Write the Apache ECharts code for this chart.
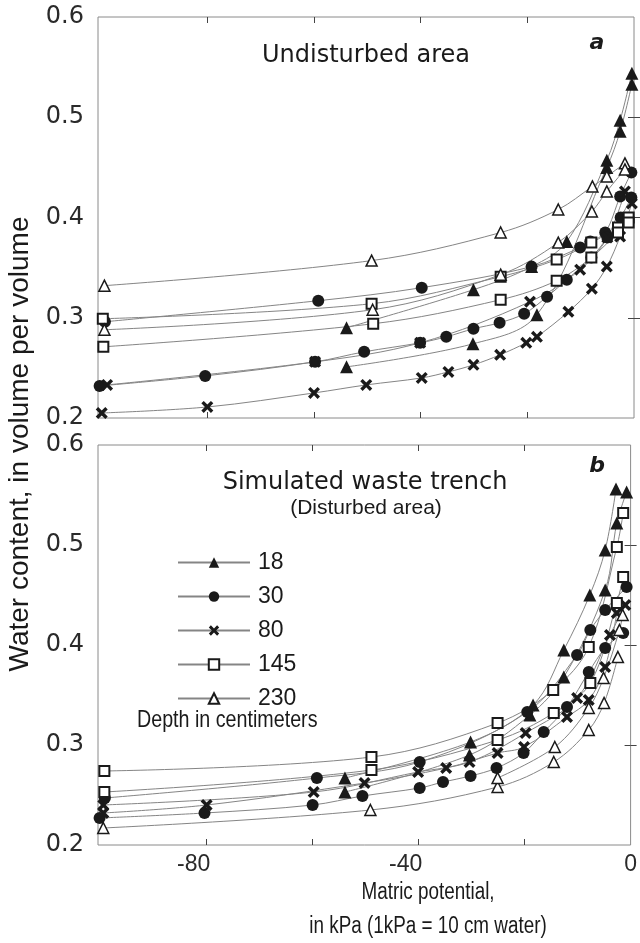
<!DOCTYPE html>
<html>
<head>
<meta charset="utf-8">
<script src="https://cdn.jsdelivr.net/npm/echarts@6/dist/echarts.min.js"></script>
<style>
  html, body { margin: 0; padding: 0; background: #fff; }
  #chart { width: 640px; height: 943px; }
</style>
</head>
<body>
<div id="chart"></div>
<script>
// depth in centimeters (legend)
var depths = ['18', '30', '80', '145', '230'];
var xTicks = [-80, -60, -40, -20];
var xLabels = [-80, -40, 0];
var yTicks = [0.3, 0.4, 0.5];
var yLabels = [0.2, 0.3, 0.4, 0.5, 0.6];

// a - undisturbed area, two curves per depth  [matric potential kPa, water content]
var u18a = [[-53.9,0.290],[-30.1,0.328],[-19.2,0.351],[-12.6,0.376],[-5.1,0.457],[-2.6,0.497],[-0.4,0.544]];
var u18b = [[-53.9,0.251],[-30.2,0.274],[-18.2,0.303],[-5.1,0.450],[-2.6,0.486],[-0.4,0.533]];
var u30a = [[-99.2,0.296],[-59.2,0.317],[-39.8,0.330],[-19.2,0.351],[-10.1,0.370],[-8.2,0.376],[-5.4,0.385],[-2.6,0.421],[-0.5,0.445]];
var u30b = [[-100.2,0.232],[-80.4,0.242],[-59.8,0.256],[-50.6,0.266],[-40.1,0.275],[-35.2,0.281],[-30.1,0.289],[-25.2,0.295],[-20.6,0.304],[-16.3,0.321],[-12.6,0.338],[-8.0,0.360],[-5.0,0.380],[-2.5,0.400],[-0.5,0.420]];
var u80a = [[-98.8,0.233],[-59.8,0.256],[-40.1,0.275],[-19.5,0.316],[-10.1,0.348],[-5.0,0.380],[-1.7,0.426]];
var u80b = [[-99.8,0.205],[-80.0,0.211],[-60.0,0.225],[-50.2,0.233],[-39.8,0.240],[-34.8,0.246],[-30.1,0.253],[-25.1,0.263],[-20.2,0.275],[-18.2,0.281],[-12.3,0.306],[-7.9,0.329],[-5.1,0.351],[-2.6,0.381],[-0.4,0.414]];
var u145a = [[-99.6,0.299],[-49.2,0.314],[-25.0,0.341],[-14.5,0.358],[-8.0,0.375],[-3.0,0.390],[-1.0,0.400]];
var u145b = [[-99.5,0.271],[-48.9,0.294],[-25.0,0.318],[-14.5,0.337],[-8.0,0.360],[-3.0,0.385],[-1.0,0.395]];
var u230a = [[-99.3,0.332],[-49.2,0.357],[-25.0,0.385],[-14.2,0.408],[-7.8,0.431],[-5.1,0.441],[-1.7,0.454]];
var u230b = [[-99.3,0.288],[-49.0,0.308],[-25.0,0.343],[-14.2,0.375],[-7.9,0.406],[-5.1,0.426],[-1.7,0.448]];

// b - simulated waste trench
var t18a = [[-53.9,0.267],[-30.2,0.303],[-18.4,0.340],[-12.6,0.395],[-7.7,0.450],[-4.8,0.495],[-2.75,0.556]];
var t18b = [[-53.9,0.253],[-30.4,0.290],[-19.0,0.330],[-12.6,0.368],[-4.8,0.455],[-2.6,0.522],[-0.75,0.553]];
var t30a = [[-99.2,0.247],[-59.2,0.267],[-39.8,0.283],[-19.5,0.333],[-10.1,0.390],[-7.6,0.415],[-4.8,0.435],[-0.75,0.458]];
var t30b = [[-100.2,0.227],[-80.4,0.232],[-60.0,0.240],[-50.6,0.249],[-39.8,0.257],[-35.4,0.263],[-30.2,0.269],[-25.3,0.277],[-20.2,0.292],[-16.4,0.313],[-12.0,0.338],[-7.9,0.373],[-4.8,0.397],[-1.4,0.412]];
var t80a = [[-99.5,0.240],[-59.8,0.253],[-40.1,0.273],[-30.4,0.283],[-19.8,0.312],[-10.1,0.347],[-3.9,0.410],[-1.0,0.440]];
var t80b = [[-99.5,0.232],[-80.0,0.240],[-50.2,0.262],[-34.8,0.277],[-25.1,0.292],[-20.1,0.298],[-12.0,0.328],[-7.9,0.345],[-4.8,0.378],[-2.6,0.432]];
var t145a = [[-99.3,0.274],[-48.9,0.288],[-25.1,0.322],[-14.6,0.355],[-7.9,0.398],[-2.6,0.498],[-1.4,0.532]];
var t145b = [[-99.3,0.253],[-48.9,0.275],[-25.1,0.305],[-14.5,0.332],[-7.6,0.362],[-2.6,0.442],[-1.4,0.468]];
var t230a = [[-99.5,0.217],[-49.1,0.235],[-25.1,0.258],[-14.5,0.283],[-7.9,0.315],[-5.0,0.342],[-2.4,0.388]];
var t230b = [[-25.1,0.267],[-14.3,0.298],[-7.9,0.337],[-5.1,0.367],[-2.1,0.415],[-1.5,0.430]];

var FONT = 'DejaVu Sans';
var SANS = 'Liberation Sans';
var INK = '#1a1a1a';
var crossPath = 'path://M2,0 L5,3 L8,0 L10,2 L7,5 L10,8 L8,10 L5,7 L2,10 L0,8 L3,5 L0,2 Z';

// marker look per depth
var markers = {
    '18':  { symbol: 'triangle', size: 13, fill: INK, border: INK, bw: 0 },
    '30':  { symbol: 'circle', size: 12, fill: INK, border: INK, bw: 0 },
    '80':  { symbol: crossPath, size: 12, fill: INK, border: INK, bw: 0 },
    '145': { symbol: 'rect', size: 10, fill: '#fff', border: INK, bw: 2 },
    '230': { symbol: 'triangle', size: 11, fill: '#fff', border: INK, bw: 1.5 }
};

function makeSeries(name, data, panel) {
    var m = markers[name];
    return {
        type: 'line',
        name: name,
        data: data,
        xAxisIndex: panel * 2,
        yAxisIndex: panel * 2,
        smooth: 0.35,
        symbol: m.symbol,
        symbolSize: m.size,
        showAllSymbol: true,
        lineStyle: { color: '#858585', width: 1 },
        itemStyle: { color: m.fill, borderColor: m.border, borderWidth: m.bw, opacity: 1 },
        emphasis: { disabled: true },
        animation: false
    };
}

function xAxes(grid, showLabels) {
    return [{
        type: 'value', gridIndex: grid, min: -100.5, max: 0, position: 'bottom',
        axisLine: { show: false }, splitLine: { show: false },
        axisTick: { show: true, inside: true, length: 6, customValues: xTicks, lineStyle: { color: '#444' } },
        axisLabel: {
            show: showLabels, customValues: xLabels, margin: 8,
            fontFamily: SANS, fontSize: 23, color: '#2a2a2a',
            // the printed labels sit a little left of their ticks
            formatter: function (v) { return v === 0 ? '{z|0}' : '{m|' + v + '}'; },
            rich: {
                m: { fontFamily: SANS, fontSize: 23, color: '#2a2a2a', padding: [0, 26, 0, 0] },
                z: { fontFamily: SANS, fontSize: 23, color: '#2a2a2a' }
            }
        }
    }, {
        type: 'value', gridIndex: grid, min: -100.5, max: 0, position: 'top',
        axisLine: { show: false }, splitLine: { show: false }, axisLabel: { show: false },
        axisTick: { show: true, inside: true, length: 6, customValues: xTicks, lineStyle: { color: '#444' } }
    }];
}

function yAxes(grid) {
    return [{
        type: 'value', gridIndex: grid, min: 0.2, max: 0.6, position: 'left',
        axisLine: { show: false }, splitLine: { show: false },
        axisTick: { show: true, inside: true, length: 6, customValues: yTicks, lineStyle: { color: '#444' } },
        axisLabel: {
            customValues: yLabels, margin: 14, fontFamily: FONT, fontSize: 24, color: '#2a2a2a',
            formatter: function (v) { return v.toFixed(1); }
        }
    }, {
        type: 'value', gridIndex: grid, min: 0.2, max: 0.6, position: 'right',
        axisLine: { show: false }, splitLine: { show: false }, axisLabel: { show: false },
        axisTick: { show: true, inside: true, length: 6, customValues: yTicks, lineStyle: { color: '#444' } }
    }];
}

var series = [
    makeSeries('18', u18a, 0), makeSeries('18', u18b, 0),
    makeSeries('30', u30a, 0), makeSeries('30', u30b, 0),
    makeSeries('80', u80a, 0), makeSeries('80', u80b, 0),
    makeSeries('145', u145a, 0), makeSeries('145', u145b, 0),
    makeSeries('230', u230a, 0), makeSeries('230', u230b, 0),
    makeSeries('18', t18a, 1), makeSeries('18', t18b, 1),
    makeSeries('30', t30a, 1), makeSeries('30', t30b, 1),
    makeSeries('80', t80a, 1), makeSeries('80', t80b, 1),
    makeSeries('145', t145a, 1), makeSeries('145', t145b, 1),
    makeSeries('230', t230a, 1), makeSeries('230', t230b, 1)
];

function label(text, x, y, size, extra, sx) {
    var style = { text: text, fontFamily: FONT, fontSize: size, fill: INK, align: 'center', verticalAlign: 'middle' };
    for (var k in extra) style[k] = extra[k];
    // sx squeezes the text sideways, the print uses a narrow face here
    return { type: 'text', x: x, y: y, scaleX: sx || 1, silent: true, style: style };
}

var chart = echarts.init(document.getElementById('chart'), null, { renderer: 'canvas' });
chart.setOption({
    backgroundColor: '#fff',
    animation: false,
    grid: [
        { left: 98, right: 6, top: 17, height: 401, show: true, borderColor: '#8a8a8a', borderWidth: 1 },
        { left: 98, right: 6, top: 445, height: 400, show: true, borderColor: '#8a8a8a', borderWidth: 1 }
    ],
    xAxis: xAxes(0, false).concat(xAxes(1, true)),
    yAxis: yAxes(0).concat(yAxes(1)),
    legend: {
        data: depths, orient: 'vertical', left: 172, top: 546,
        itemWidth: 72, itemHeight: 13, itemGap: 11,
        selectedMode: false,
        textStyle: { fontFamily: SANS, fontSize: 23, color: INK, padding: [0, 0, 0, 3] }
    },
    graphic: [
        label('Undisturbed area', 366, 56, 24),
        label('a', 597, 43, 22, { fontWeight: 'bold', fontStyle: 'italic' }),
        label('Simulated waste trench', 365, 483, 24),
        label('(Disturbed area)', 366, 508, 21, { fontFamily: SANS }),
        label('b', 597, 466, 22, { fontWeight: 'bold', fontStyle: 'italic' }),
        label('Depth in centimeters', 137, 720, 24, { fontFamily: SANS, align: 'left' }, 0.82),
        label('Matric potential,', 428, 893, 23, { fontFamily: SANS }, 0.82),
        label('in kPa (1kPa = 10 cm water)', 428, 927, 23, { fontFamily: SANS }, 0.82),
        {
            type: 'text', x: 20, y: 444, rotation: Math.PI / 2, silent: true,
            style: { text: 'Water content, in volume per volume', fontFamily: SANS, fontSize: 28,
                     fill: INK, align: 'center', verticalAlign: 'middle' }
        }
    ],
    series: series
});
</script>
</body>
</html>
